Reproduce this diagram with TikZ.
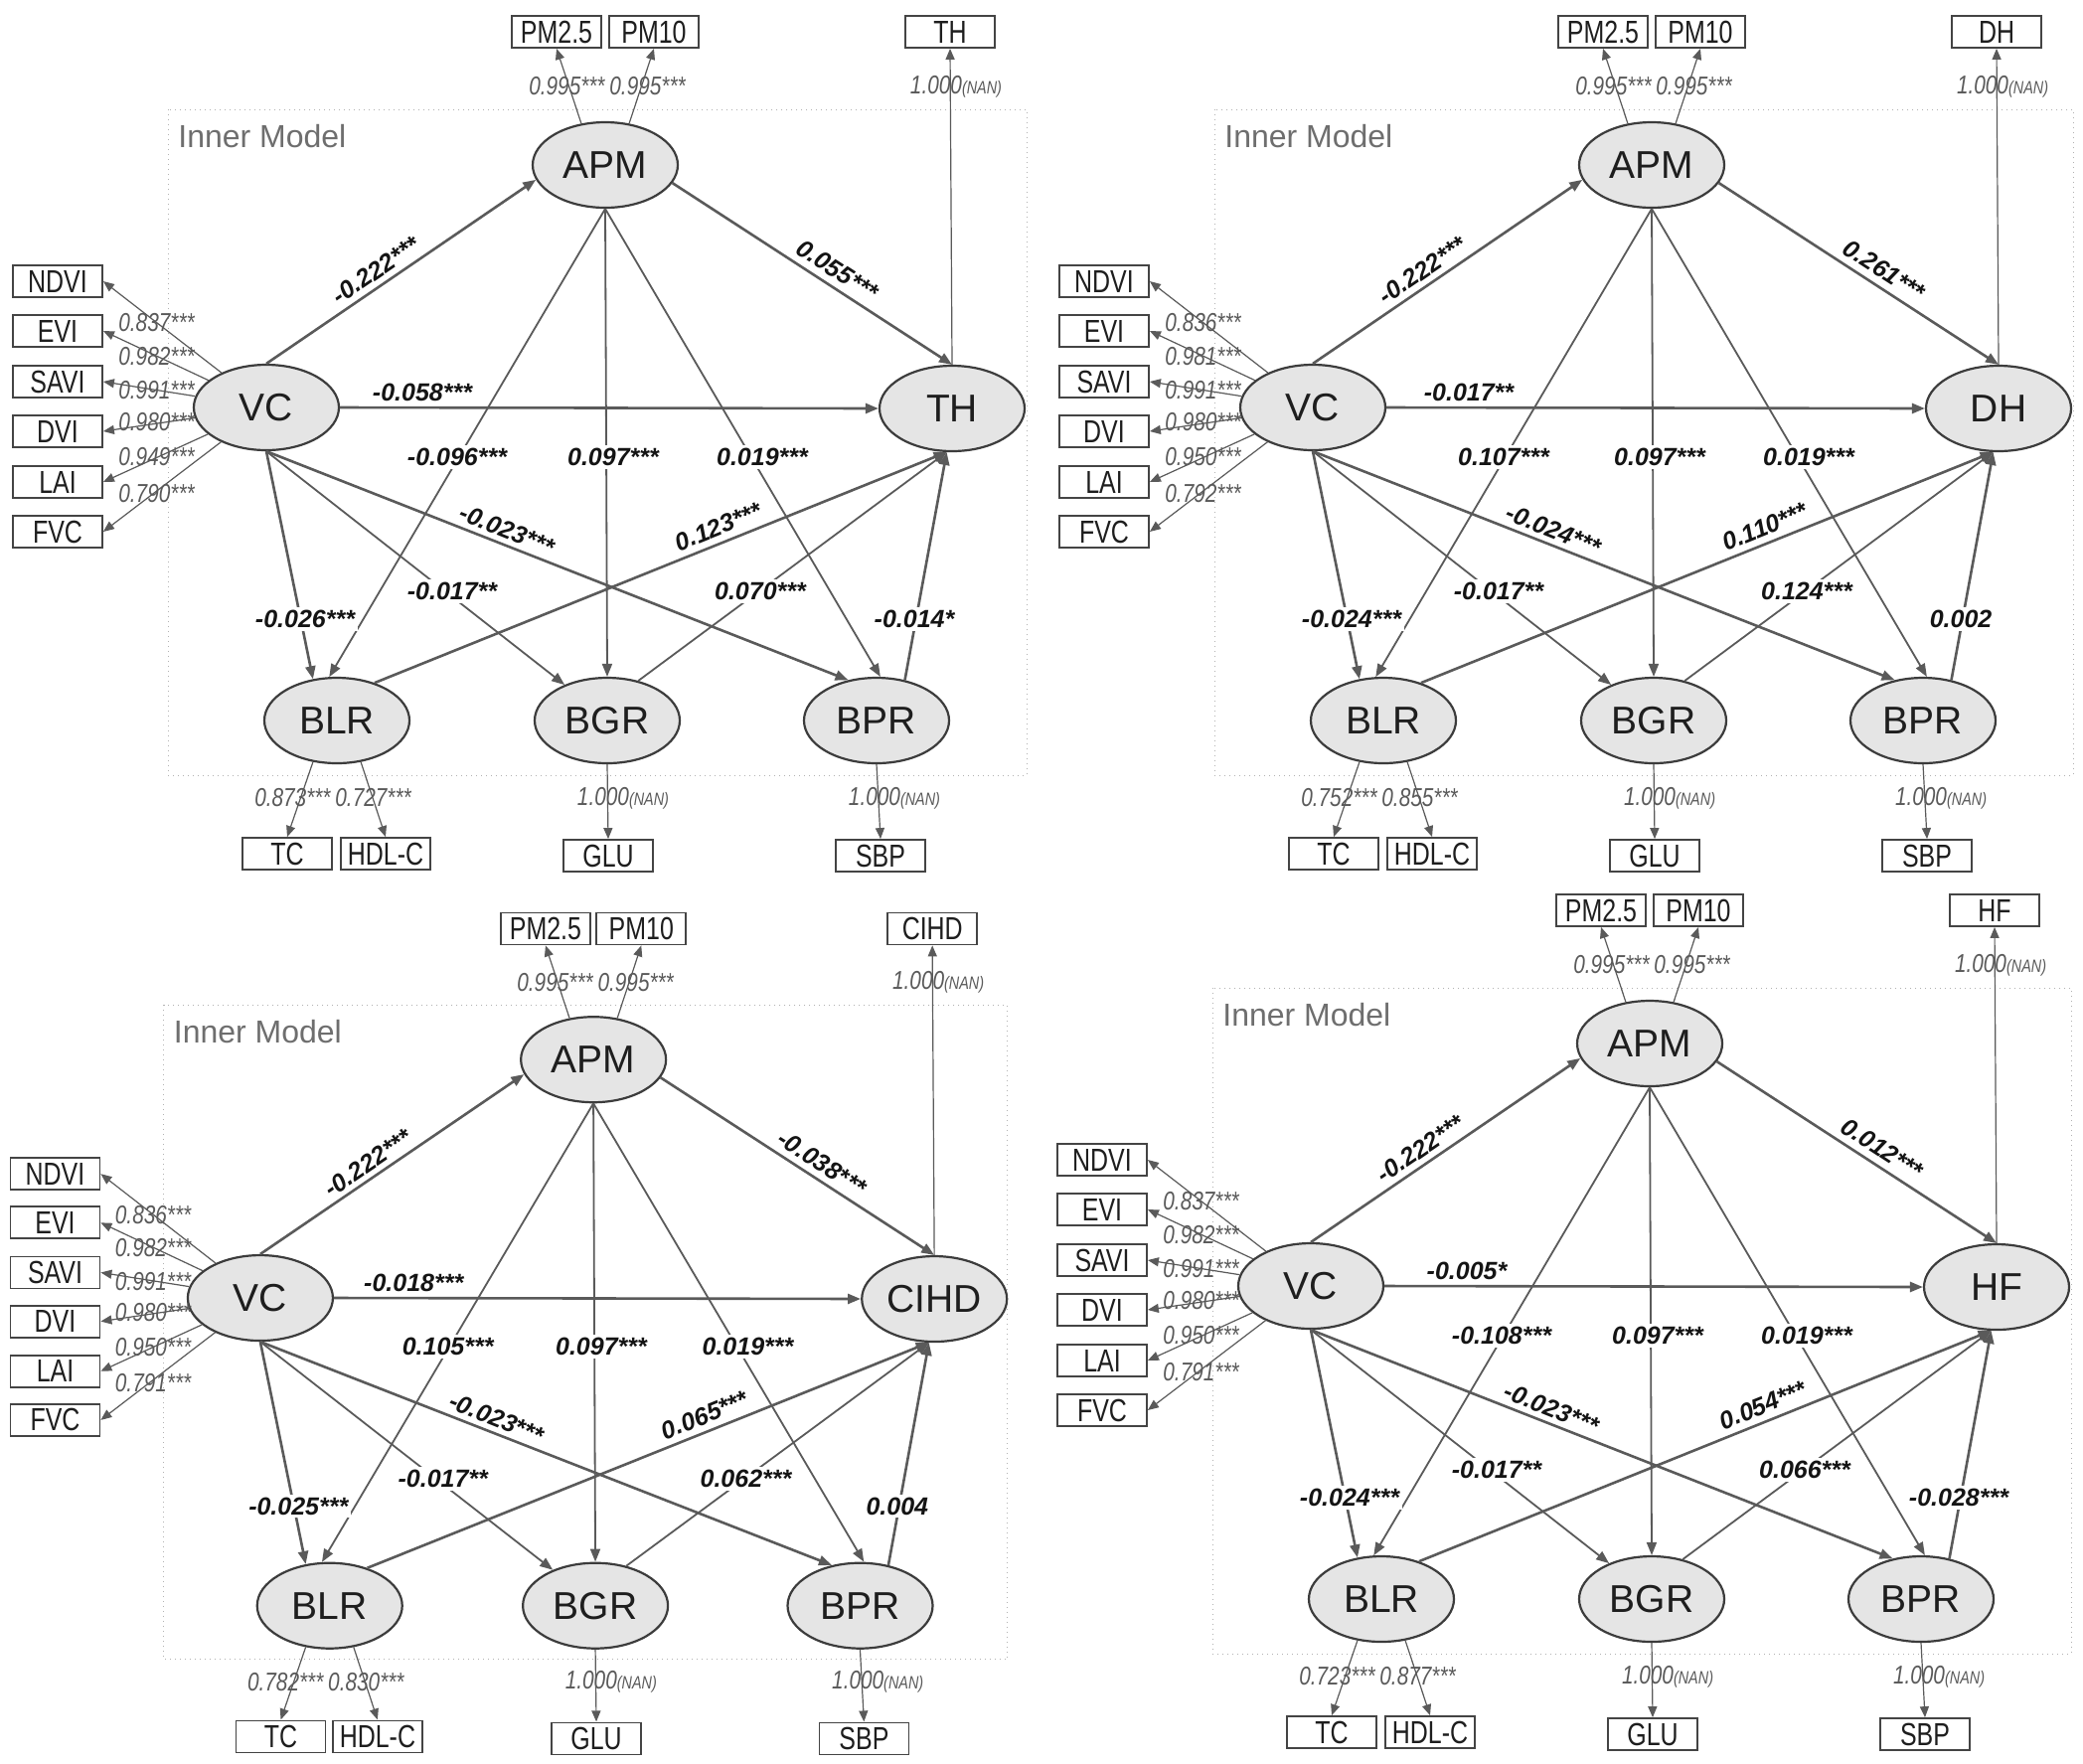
\documentclass[tikz,border=0pt]{standalone}
\usepackage{fontspec}
\setmainfont{Liberation Sans}
\newfontfamily\condfont[FakeStretch=0.78]{Liberation Sans}
\newfontfamily\ldfont[FakeStretch=0.8]{Liberation Sans}
\usetikzlibrary{arrows.meta,shapes.geometric}
\definecolor{lnc}{HTML}{5A5A5A}
\definecolor{ellc}{HTML}{3C3C3C}
\definecolor{ellf}{HTML}{E5E5E5}
\definecolor{boxc}{HTML}{444444}
\definecolor{txtc}{HTML}{1E1E1E}
\definecolor{ldc}{HTML}{5A5A5A}
\definecolor{pcc}{HTML}{141414}
\definecolor{innc}{HTML}{6E6E6E}
\newcommand\nanlbl{{\fontsize{9}{9}\selectfont(NAN)}}
\tikzset{
 mylat/.style={ellipse, draw=ellc, line width=1.1pt, fill=ellf, minimum width=73pt, minimum height=43pt, inner sep=0pt, font=\fontsize{19.5}{20}\selectfont, text=txtc},
 myind/.style={rectangle, draw=boxc, line width=0.9pt, minimum width=45pt, minimum height=16pt, inner sep=0pt, font=\condfont\fontsize{16}{16}\selectfont, text=txtc},
 myld/.style={font=\ldfont\itshape\fontsize{13}{13}\selectfont, text=ldc, inner sep=1pt},
 mypc/.style={font=\bfseries\itshape\fontsize{12.5}{13}\selectfont, text=pcc, inner sep=1.5pt},
 mypcw/.style={mypc, fill=white},
 mythk/.style={draw=lnc, line width=1.3pt, -{Triangle[length=6.5pt,width=5pt]}},
 mythn/.style={draw=lnc, line width=0.9pt, -{Triangle[length=6.5pt,width=5pt]}},
 myout/.style={draw=lnc, line width=0.6pt, -{Triangle[length=5.5pt,width=4.5pt]}},
 myinner/.style={draw=gray!60, line width=0.5pt, dotted},
}
\newcommand\drawpanel{%
 \draw[myinner] (169,110) rectangle (1033,780);
 \node[anchor=west, font=\fontsize{16}{17}\selectfont, text=innc, inner sep=0pt] (inm) at (179,137) {Inner Model};
 \node[mylat] (APM) at (609,166) {APM};
 \node[mylat] (VC) at (268,410) {VC};
 \node[mylat] (Y) at (958,411) {\Yname};
 \node[mylat] (BLR) at (339,725) {BLR};
 \node[mylat] (BGR) at (611,725) {BGR};
 \node[mylat] (BPR) at (882,725) {BPR};
 \node[myind] (PMa) at (560,32) {PM2.5};
 \node[myind] (PMb) at (658,32) {PM10};
 \node[myind] (Yb) at (956,32) {\Yname};
 \node[myind] (NDVI) at (58,283) {NDVI};
 \node[myind] (EVI) at (58,333) {EVI};
 \node[myind] (SAVI) at (58,384) {SAVI};
 \node[myind] (DVI) at (58,434) {DVI};
 \node[myind] (LAI) at (58,485) {LAI};
 \node[myind] (FVC) at (58,535) {FVC};
 \node[myind] (TC) at (289,859) {TC};
 \node[myind] (HDL) at (388,859) {HDL-C};
 \node[myind] (GLU) at (612,861) {GLU};
 \node[myind] (SBP) at (886,861) {SBP};
 % inner paths
 \draw[mythk] (VC.north) -- (APM.192);
 \draw[mythk] (APM.-15) -- (Y.north);
 \draw[mythk] (VC.east) -- (Y.west);
 \draw[mythn] (APM.south) -- (BLR.100);
 \draw[mythn] (APM.south) -- (BGR.north);
 \draw[mythn] (APM.south) -- (BPR.85);
 \draw[mythk] (VC.south) -- (BLR.120);
 \draw[mythn] (VC.south) -- (BGR.140);
 \draw[mythk] (VC.south) -- (BPR.125);
 \draw[mythk] (BLR.45) -- (Y.-97);
 \draw[mythn] (BGR.52) -- (Y.-97);
 \draw[mythk] (BPR.55) -- (Y.-97);
 % outer paths
 \draw[myout] (APM.120) -- (PMa.south);
 \draw[myout] (APM.60) -- (PMb.south);
 \draw[myout] (Y.north) -- (Yb.south);
 \foreach \nn in {NDVI,EVI,SAVI,DVI,LAI,FVC} {\draw[myout] (VC) -- (\nn.east);}
 \draw[myout] (BLR.-120) -- (TC.north);
 \draw[myout] (BLR.-60) -- (HDL.north);
 \draw[myout] (BGR.south) -- (GLU.north);
 \draw[myout] (BPR.south) -- (SBP.north);
 % loadings
 \node[myld, anchor=east] (lPa) at (611,87) {0.995***};
 \node[myld, anchor=west] (lPb) at (611,87) {0.995***};
 \node[myld] (lYb) at (962,87) {1.000\nanlbl};
 \node[myld, anchor=west] (lv1) at (117,325) {\vA};
 \node[myld, anchor=west] (lv2) at (117,359) {\vB};
 \node[myld, anchor=west] (lv3) at (117,393) {\vC};
 \node[myld, anchor=west] (lv4) at (117,425) {\vD};
 \node[myld, anchor=west] (lv5) at (117,460) {\vE};
 \node[myld, anchor=west] (lv6) at (117,497) {\vF};
 \node[myld, anchor=east] (lb1) at (335,803) {\bA};
 \node[myld, anchor=west] (lb2) at (335,803) {\bB};
 \node[myld] (lgl) at (627,803) {1.000\nanlbl};
 \node[myld] (lsb) at (900,803) {1.000\nanlbl};
 % path coefficients
 \node[mypc, rotate=34.4] (lVA) at (378,272) {\pVA};
 \node[mypc, rotate=-33] (lAY) at (843,272) {\pAY};
 \node[mypc] (lVY) at (425,395) {\pVY};
 \node[mypcw] (lAL) at (460,460) {\pAL};
 \node[mypcw] (lAG) at (617,460) {\pAG};
 \node[mypcw] (lAP) at (767,460) {\pAP};
 \node[mypc, rotate=-22] (lVP) at (510,533) {\pVP};
 \node[mypc, rotate=22] (lLY) at (723,530) {\pLY};
 \node[mypcw] (lVG) at (455,595) {\pVG};
 \node[mypcw] (lGY) at (765,595) {\pGY};
 \node[mypcw] (lVL) at (307,623) {\pVL};
 \node[mypcw] (lPY) at (920,623) {\pPY};
}
\begin{document}
\begin{tikzpicture}[x=0.5pt,y=-0.5pt]
\useasboundingbox (0,0) rectangle (2096,1774);
\fill[white] (0,0) rectangle (2096,1774);
% panel 1: TH
\begin{scope}[name prefix=a-]
 \def\Yname{TH}
 \def\vA{0.837***}\def\vB{0.982***}\def\vC{0.991***}\def\vD{0.980***}\def\vE{0.949***}\def\vF{0.790***}
 \def\bA{0.873***}\def\bB{0.727***}
 \def\pVA{-0.222***}\def\pAY{0.055***}\def\pVY{-0.058***}\def\pAL{-0.096***}\def\pAG{0.097***}\def\pAP{0.019***}
 \def\pVP{-0.023***}\def\pLY{0.123***}\def\pVG{-0.017**}\def\pGY{0.070***}\def\pVL{-0.026***}\def\pPY{-0.014*}
 \drawpanel
\end{scope}
% panel 2: DH
\begin{scope}[shift={(1053,0)}, name prefix=b-]
 \def\Yname{DH}
 \def\vA{0.836***}\def\vB{0.981***}\def\vC{0.991***}\def\vD{0.980***}\def\vE{0.950***}\def\vF{0.792***}
 \def\bA{0.752***}\def\bB{0.855***}
 \def\pVA{-0.222***}\def\pAY{0.261***}\def\pVY{-0.017**}\def\pAL{0.107***}\def\pAG{0.097***}\def\pAP{0.019***}
 \def\pVP{-0.024***}\def\pLY{0.110***}\def\pVG{-0.017**}\def\pGY{0.124***}\def\pVL{-0.024***}\def\pPY{0.002}
 \drawpanel
\end{scope}
% panel 3: CIHD
\begin{scope}[shift={(-1.5,903)}, scale=0.983, name prefix=c-]
 \def\Yname{CIHD}
 \def\vA{0.836***}\def\vB{0.982***}\def\vC{0.991***}\def\vD{0.980***}\def\vE{0.950***}\def\vF{0.791***}
 \def\bA{0.782***}\def\bB{0.830***}
 \def\pVA{-0.222***}\def\pAY{-0.038***}\def\pVY{-0.018***}\def\pAL{0.105***}\def\pAG{0.097***}\def\pAP{0.019***}
 \def\pVP{-0.023***}\def\pLY{0.065***}\def\pVG{-0.017**}\def\pGY{0.062***}\def\pVL{-0.025***}\def\pPY{0.004}
 \drawpanel
\end{scope}
% panel 4: HF
\begin{scope}[shift={(1051,884)}, name prefix=d-]
 \def\Yname{HF}
 \def\vA{0.837***}\def\vB{0.982***}\def\vC{0.991***}\def\vD{0.980***}\def\vE{0.950***}\def\vF{0.791***}
 \def\bA{0.723***}\def\bB{0.877***}
 \def\pVA{-0.222***}\def\pAY{0.012***}\def\pVY{-0.005*}\def\pAL{-0.108***}\def\pAG{0.097***}\def\pAP{0.019***}
 \def\pVP{-0.023***}\def\pLY{0.054***}\def\pVG{-0.017**}\def\pGY{0.066***}\def\pVL{-0.024***}\def\pPY{-0.028***}
 \drawpanel
\end{scope}
\end{tikzpicture}
\end{document}
